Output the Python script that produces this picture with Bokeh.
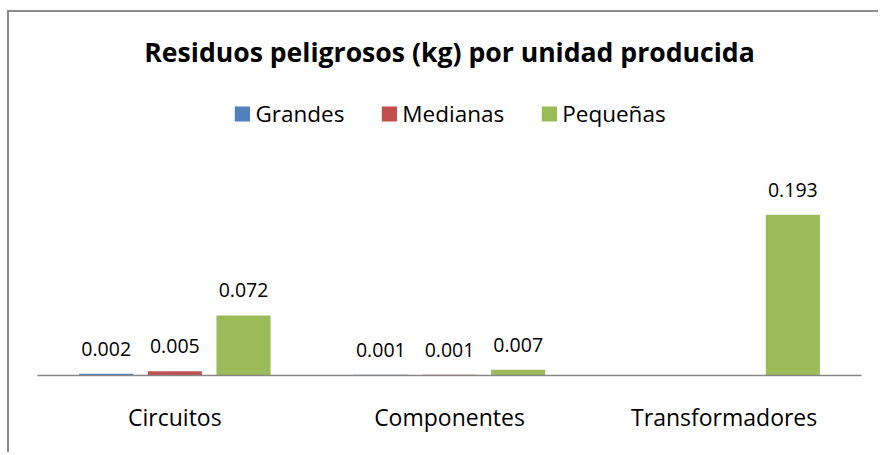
from bokeh.plotting import figure
from bokeh.models import FactorRange, Range1d, ColumnDataSource, Legend, LegendItem, Label
from bokeh.transform import dodge
from bokeh.core.properties import value
from bokeh.embed import file_html
from bokeh.resources import INLINE

categories = ["Circuitos", "Componentes", "Transformadores"]
series = ["Grandes", "Medianas", "Pequeñas"]
grandes = [0.002, 0.001, None]
medianas = [0.005, 0.001, None]
pequenas = [0.072, 0.007, 0.193]
colors = ["#4F81BD", "#C0504D", "#9BBB59"]
title_text = "Residuos peligrosos (kg) por unidad producida"

FONT = "Open Sans"

p = figure(x_range=FactorRange(*categories, range_padding=0),
           y_range=Range1d(0, 0.4355),
           width=871, height=442, output_backend="svg", toolbar_location=None,
           y_axis_location=None,
           min_border_left=28, min_border_right=19, min_border_top=0, min_border_bottom=79)
p.xgrid.visible = False
p.ygrid.visible = False
p.outline_line_color = None
p.styles = {"border-left": "2px solid #8c8c8c", "border-top": "2px solid #8c8c8c",
            "margin-left": "7px", "margin-top": "10px"}

offsets = [-0.25, 0.0, 0.25]
items = []
for name, vals, col, off in zip(series, [grandes, medianas, pequenas], colors, offsets):
    xs = [c for c, v in zip(categories, vals) if v is not None]
    ys = [v for v in vals if v is not None]
    src = ColumnDataSource(dict(x=xs, top=ys, lab=[f"{v:.3f}" for v in ys]))
    r = p.vbar(x=dodge("x", off, range=p.x_range), top="top", width=0.197, source=src,
               fill_color=col, line_color=None)
    p.text(x=dodge("x", off, range=p.x_range), y="top", text="lab", source=src,
           text_align="center", text_baseline="bottom", y_offset=-18,
           text_font=value(FONT), text_font_size="19.5px", text_color="black")
    items.append(LegendItem(label=name, renderers=[r]))

legend = Legend(items=items, location="top_center", orientation="horizontal",
                border_line_color=None, background_fill_alpha=0, padding=0, margin=86,
                label_text_font=FONT, label_text_font_size="22.5px", label_text_color="black",
                glyph_width=19, glyph_height=19, label_standoff=4, spacing=35)
p.add_layout(legend)

title = Label(x=412, y=324, x_units="screen", y_units="screen", text=title_text,
              text_align="center", text_baseline="middle", text_font=FONT,
              text_font_style="bold", text_font_size="26.6px", text_color="black")
p.add_layout(title)

p.xaxis.axis_line_color = "#868686"
p.xaxis.axis_line_width = 1.5
p.xaxis.major_tick_line_color = None
p.xaxis.minor_tick_line_color = None
p.xaxis.major_label_text_font = FONT
p.xaxis.major_label_text_font_size = "23px"
p.xaxis.major_label_text_color = "black"
p.xaxis.major_label_standoff = 19

open("out.html", "w").write(file_html(p, INLINE))
